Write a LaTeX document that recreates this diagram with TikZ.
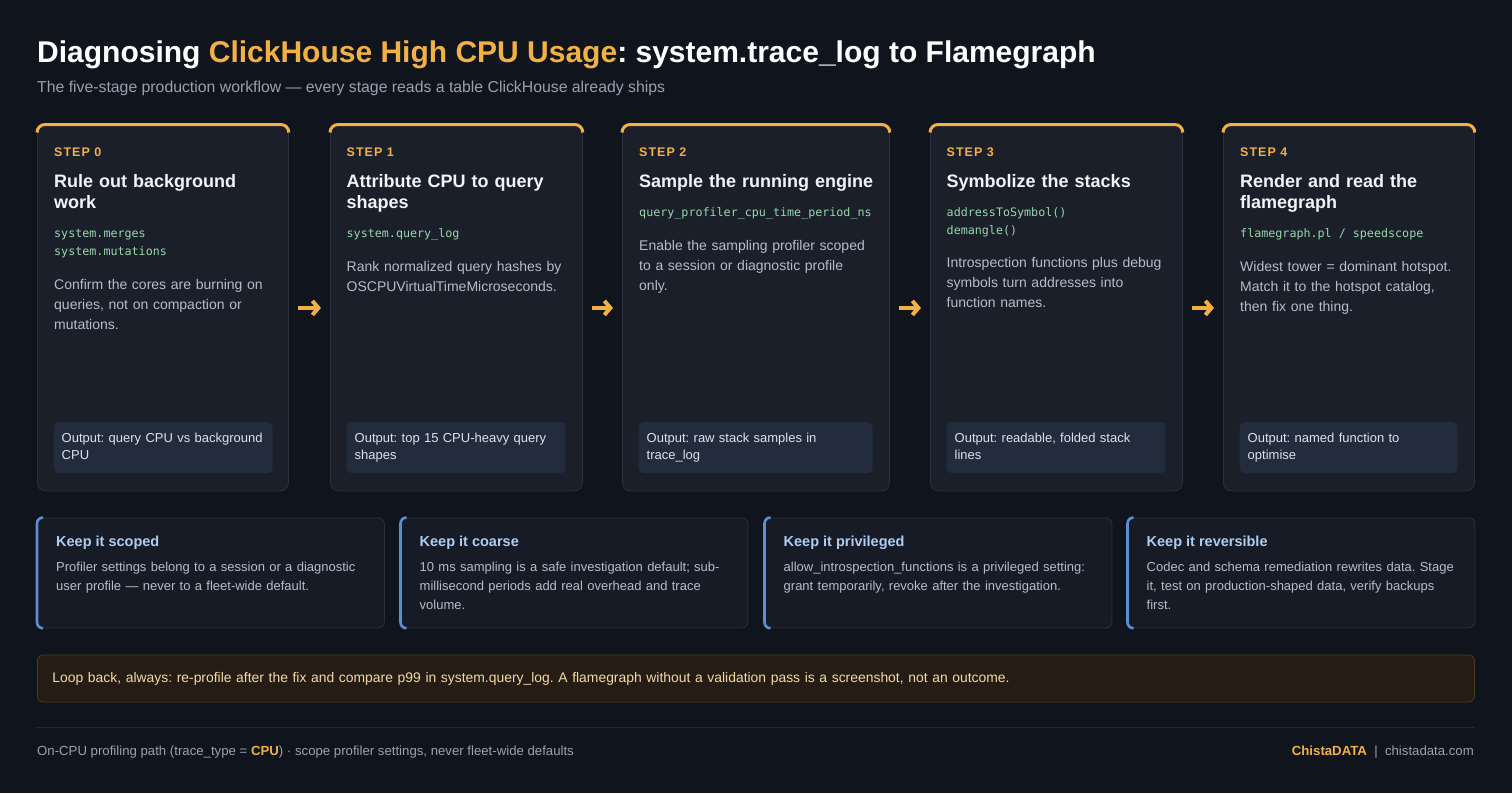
\documentclass[tikz,border=0pt]{standalone}
\usepackage{fontspec}
\setmainfont{Liberation Sans}
\newfontfamily\codefont{DejaVu Sans Mono}
\usetikzlibrary{arrows.meta, positioning}
\frenchspacing

\definecolor{pagebg}{HTML}{10141D}
\definecolor{cardbg}{HTML}{1A1F2A}
\definecolor{cardline}{HTML}{2A303D}
\definecolor{accent}{HTML}{F2B143}
\definecolor{headtext}{HTML}{F2F4F7}
\definecolor{bodytext}{HTML}{B5BDC9}
\definecolor{codetext}{HTML}{98D8AA}
\definecolor{outfill}{HTML}{232C3D}
\definecolor{outtext}{HTML}{DCE2EA}
\definecolor{tipbg}{HTML}{161B25}
\definecolor{tipblue}{HTML}{5B8FD1}
\definecolor{tipheadcol}{HTML}{AFCCF2}
\definecolor{loopbg}{HTML}{251D13}
\definecolor{loopline}{HTML}{4A3B25}
\definecolor{looptext}{HTML}{F3D9A6}
\definecolor{subtext}{HTML}{98A1B0}
\definecolor{rulecol}{HTML}{232936}

\begin{document}
\begin{tikzpicture}[
    x=1pt, y=-1pt,
    card/.style={draw=cardline, line width=0.8pt, fill=cardbg, rounded corners=8pt, minimum height=366pt, anchor=north west, inner sep=0pt},
    topbar/.style={draw=accent, line width=3pt},
    steplabel/.style={font=\fontsize{12.5}{15}\selectfont\bfseries\addfontfeature{LetterSpace=8}, text=accent, inner sep=0pt, execute at begin node=\strut},
    stephead/.style={font=\fontsize{18}{21}\selectfont\bfseries, text=headtext, text width=240pt, align=left, inner sep=0pt, execute at begin node=\strut, execute at end node=\strut},
    stepcode/.style={font=\codefont\fontsize{11.7}{18.5}\selectfont, text=codetext, text width=250pt, align=left, inner sep=0pt, execute at begin node=\strut, execute at end node=\strut},
    stepbody/.style={font=\fontsize{14}{20}\selectfont, text=bodytext, text width=250pt, align=left, inner sep=0pt, execute at begin node=\strut, execute at end node=\strut},
    outbox/.style={fill=outfill, rounded corners=5pt, font=\fontsize{13}{17}\selectfont, text=outtext, align=left, inner xsep=8pt, inner ysep=8.5pt, execute at begin node=\strut, execute at end node=\strut},
    flow/.style={draw=accent, line width=4pt, -{Straight Barb[length=6pt,width=14pt]}, shorten <=9pt, shorten >=9pt},
    tipbox/.style={draw=cardline, line width=0.8pt, fill=tipbg, rounded corners=6pt, minimum width=347pt, minimum height=110pt, anchor=north west, inner sep=0pt},
    tipedge/.style={draw=tipblue, line width=2.6pt},
    tiphead/.style={font=\fontsize{14.5}{18}\selectfont\bfseries, text=tipheadcol, inner sep=0pt, execute at begin node=\strut, execute at end node=\strut},
    tipbody/.style={font=\fontsize{13}{19}\selectfont, text=bodytext, text width=320pt, align=left, inner sep=0pt, execute at begin node=\strut, execute at end node=\strut},
    loopbox/.style={draw=loopline, line width=0.8pt, fill=loopbg, rounded corners=6pt, anchor=north west, minimum width=1437pt, minimum height=47pt, text width=1407pt, inner xsep=15pt, align=left, font=\fontsize{13.9}{18}\selectfont, text=looptext, execute at begin node=\strut, execute at end node=\strut},
    foot/.style={font=\fontsize{13.2}{16}\selectfont, text=subtext, inner sep=0pt}
]

% Page
\fill[pagebg] (0,0) rectangle (1512,793);
\useasboundingbox (0,0) rectangle (1512,793);

% Title
\node[anchor=base west, inner sep=0pt, font=\fontsize{30}{36}\selectfont\bfseries, text=white] (title) at (37,62)
  {Diagnosing \textcolor{accent}{ClickHouse High CPU Usage}: system.trace\_log to Flamegraph};
\node[anchor=base west, inner sep=0pt, font=\fontsize{15.8}{19}\selectfont, text=subtext] (subtitle) at (37,92)
  {The five-stage production workflow — every stage reads a table ClickHouse already ships};

% Step 0
\node[card, minimum width=251pt] (c0) at (37,124.5) {};
\draw[topbar] ([yshift=-8pt]c0.north west) [rounded corners=8pt] -- (c0.north west) -- (c0.north east) -- ([yshift=-8pt]c0.north east);
\node[steplabel, below right=21.7pt and 17pt of c0.north west] (s0) {STEP 0};
\node[stephead, below=10.8pt of s0.south west, anchor=north west] (h0) {Rule out background\\work};
\node[stepcode, below=9.3pt of h0.south west, anchor=north west] (k0) {system.merges\\system.mutations};
\node[stepbody, below=13.9pt of k0.south west, anchor=north west] (b0) {Confirm the cores are burning on\\queries, not on compaction or\\mutations.};
\node[outbox, text width=203pt, above right=18pt and 16.5pt of c0.south west] (o0) {Output: query CPU vs background\\CPU};

% Step 1
\node[card, minimum width=252pt] (c1) at (330,124.5) {};
\draw[topbar] ([yshift=-8pt]c1.north west) [rounded corners=8pt] -- (c1.north west) -- (c1.north east) -- ([yshift=-8pt]c1.north east);
\node[steplabel, below right=21.7pt and 16.5pt of c1.north west] (s1) {STEP 1};
\node[stephead, below=10.8pt of s1.south west, anchor=north west] (h1) {Attribute CPU to query\\shapes};
\node[stepcode, below=9.3pt of h1.south west, anchor=north west] (k1) {system.query\_log};
\node[stepbody, below=13.9pt of k1.south west, anchor=north west] (b1) {Rank normalized query hashes by\\OSCPUVirtualTimeMicroseconds.};
\node[outbox, text width=203pt, above right=18pt and 16.5pt of c1.south west] (o1) {Output: top 15 CPU-heavy query\\shapes};

% Step 2
\node[card, minimum width=267pt] (c2) at (622,124.5) {};
\draw[topbar] ([yshift=-8pt]c2.north west) [rounded corners=8pt] -- (c2.north west) -- (c2.north east) -- ([yshift=-8pt]c2.north east);
\node[steplabel, below right=21.7pt and 17pt of c2.north west] (s2) {STEP 2};
\node[stephead, below=10.8pt of s2.south west, anchor=north west] (h2) {Sample the running engine};
\node[stepcode, below=9.3pt of h2.south west, anchor=north west] (k2) {query\_profiler\_cpu\_time\_period\_ns};
\node[stepbody, below=13.9pt of k2.south west, anchor=north west] (b2) {Enable the sampling profiler scoped\\to a session or diagnostic profile\\only.};
\node[outbox, text width=218pt, above right=18pt and 16.5pt of c2.south west] (o2) {Output: raw stack samples in\\trace\_log};

% Step 3
\node[card, minimum width=252pt] (c3) at (930,124.5) {};
\draw[topbar] ([yshift=-8pt]c3.north west) [rounded corners=8pt] -- (c3.north west) -- (c3.north east) -- ([yshift=-8pt]c3.north east);
\node[steplabel, below right=21.7pt and 16.5pt of c3.north west] (s3) {STEP 3};
\node[stephead, below=10.8pt of s3.south west, anchor=north west] (h3) {Symbolize the stacks};
\node[stepcode, below=9.3pt of h3.south west, anchor=north west] (k3) {addressToSymbol()\\demangle()};
\node[stepbody, below=12.5pt of k3.south west, anchor=north west] (b3) {Introspection functions plus debug\\symbols turn addresses into\\function names.};
\node[outbox, text width=203pt, above right=18pt and 16.5pt of c3.south west] (o3) {Output: readable, folded stack\\lines};

% Step 4
\node[card, minimum width=251pt] (c4) at (1223,124.5) {};
\draw[topbar] ([yshift=-8pt]c4.north west) [rounded corners=8pt] -- (c4.north west) -- (c4.north east) -- ([yshift=-8pt]c4.north east);
\node[steplabel, below right=21.7pt and 17pt of c4.north west] (s4) {STEP 4};
\node[stephead, below=10.8pt of s4.south west, anchor=north west] (h4) {Render and read the\\flamegraph};
\node[stepcode, below=9.3pt of h4.south west, anchor=north west] (k4) {flamegraph.pl\hphantom{x}/\hphantom{x}speedscope};
\node[stepbody, below=13.9pt of k4.south west, anchor=north west] (b4) {Widest tower = dominant hotspot.\\Match it to the hotspot catalog,\\then fix one thing.};
\node[outbox, text width=202pt, above right=18pt and 16.5pt of c4.south west] (o4) {Output: named function to\\optimise};

% Flow arrows
\draw[flow] (c0.east) -- (c1.west);
\draw[flow] (c1.east) -- (c2.west);
\draw[flow] (c2.east) -- (c3.west);
\draw[flow] (c3.east) -- (c4.west);

% Guard rails
\node[tipbox] (t0) at (37,517.5) {};
\draw[tipedge] ([xshift=6pt]t0.north west) [rounded corners=6pt] -| (t0.south west) -- ([xshift=6pt]t0.south west);
\node[tiphead, below right=16.6pt and 19pt of t0.north west] (th0) {Keep it scoped};
\node[tipbody, below=5.6pt of th0.south west, anchor=north west] (tb0) {Profiler settings belong to a session or a diagnostic\\user profile — never to a fleet-wide default.};

\node[tipbox] (t1) at (400.5,517.5) {};
\draw[tipedge] ([xshift=6pt]t1.north west) [rounded corners=6pt] -| (t1.south west) -- ([xshift=6pt]t1.south west);
\node[tiphead, below right=16.6pt and 19pt of t1.north west] (th1) {Keep it coarse};
\node[tipbody, below=5.6pt of th1.south west, anchor=north west] (tb1) {10 ms sampling is a safe investigation default; sub-\\millisecond periods add real overhead and trace\\volume.};

\node[tipbox] (t2) at (764.5,517.5) {};
\draw[tipedge] ([xshift=6pt]t2.north west) [rounded corners=6pt] -| (t2.south west) -- ([xshift=6pt]t2.south west);
\node[tiphead, below right=16.6pt and 19pt of t2.north west] (th2) {Keep it privileged};
\node[tipbody, below=5.6pt of th2.south west, anchor=north west] (tb2) {allow\_introspection\_functions is a privileged setting:\\grant temporarily, revoke after the investigation.};

\node[tipbox] (t3) at (1127.5,517.5) {};
\draw[tipedge] ([xshift=6pt]t3.north west) [rounded corners=6pt] -| (t3.south west) -- ([xshift=6pt]t3.south west);
\node[tiphead, below right=16.6pt and 19pt of t3.north west] (th3) {Keep it reversible};
\node[tipbody, below=5.6pt of th3.south west, anchor=north west] (tb3) {Codec and schema remediation rewrites data. Stage\\it, test on production-shaped data, verify backups\\first.};

% Loop back note
\node[loopbox] (loop) at (37,654.5) {Loop back, always: re-profile after the fix and compare p99 in system.query\_log. A flamegraph without a validation pass is a screenshot, not an outcome.};

% Footer
\draw[rulecol, line width=1pt] (37,727) -- (1474,727);
\node[foot, anchor=base west] (footl) at (37,755) {On-CPU profiling path (trace\_type = \textbf{\textcolor{accent}{CPU}}) · scope profiler settings, never fleet-wide defaults};
\node[foot, anchor=base east] (footr) at (1474,755) {\textbf{\textcolor{accent}{ChistaDATA}}\ \ |\ \ chistadata.com};

\end{tikzpicture}
\end{document}
